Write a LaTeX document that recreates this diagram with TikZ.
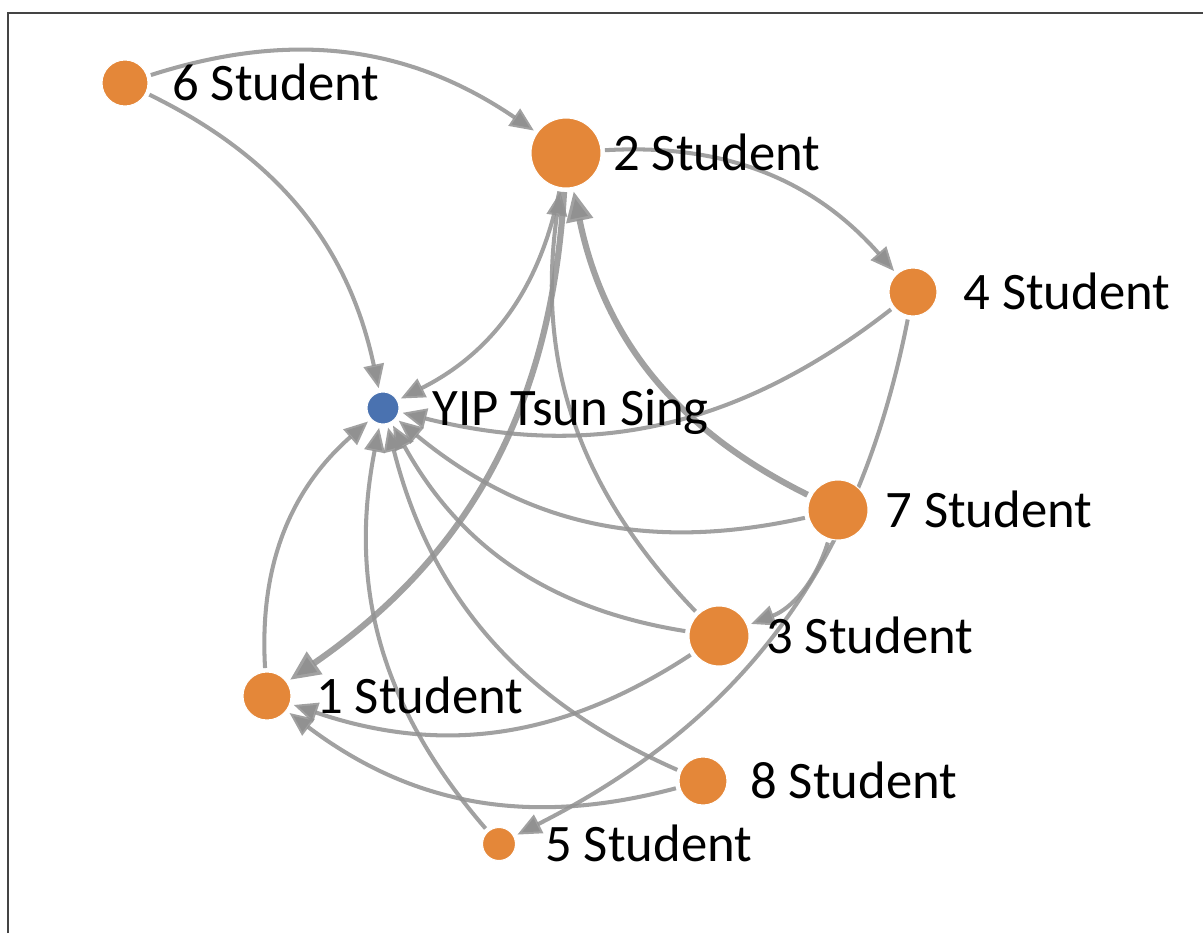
\documentclass[tikz,border=0pt]{standalone}
\usepackage{fontspec}
\setmainfont{Carlito}
\usetikzlibrary{arrows.meta}
\definecolor{nodeorange}{RGB}{228,135,57}
\definecolor{nodeblue}{RGB}{74,114,176}
\definecolor{edgegray}{RGB}{145,145,145}
\definecolor{framegray}{RGB}{68,68,68}
\pgfdeclarelayer{edgelayer}
\pgfsetlayers{edgelayer,main}

\begin{document}
\begin{tikzpicture}[x=0.02cm, y=-0.02cm,
  student/.style = {circle, fill=nodeorange, draw=white, line width=0.6pt, inner sep=0pt},
  teacher/.style = {circle, fill=nodeblue, draw=white, line width=0.6pt, inner sep=0pt},
  tag/.style = {anchor=base west, inner sep=0pt, font=\fontsize{30}{36}\selectfont},
  edgeline/.style = {draw=edgegray, draw opacity=0.85, line width=2.3pt, bend left=26,
    shorten >=2pt, shorten <=2pt, -{Triangle[length=0.48cm, width=0.4cm]}},
  heavyline/.style = {edgeline, line width=3.5pt, -{Triangle[length=0.6cm, width=0.52cm]}}]
  \useasboundingbox (0,0) rectangle (1203,933);
  \draw[framegray, line width=1.2pt] (8,933) -- (8,13) -- (1203,13);

  \node[student, minimum size=0.92cm] (n6) at (125,83) {};
  \node[student, minimum size=1.40cm] (n2) at (566,153) {};
  \node[student, minimum size=0.96cm] (n4) at (913,292) {};
  \node[teacher, minimum size=0.64cm] (yip) at (383,408) {};
  \node[student, minimum size=1.20cm] (n7) at (838,510) {};
  \node[student, minimum size=1.20cm] (n3) at (719,636) {};
  \node[student, minimum size=0.96cm] (n1) at (267,696) {};
  \node[student, minimum size=0.96cm] (n8) at (703,781) {};
  \node[student, minimum size=0.66cm] (n5) at (499,844) {};

  \node[tag] (l6) at (172,100) {6 Student};
  \node[tag] (l2) at (613,170) {2 Student};
  \node[tag] (l4) at (963,309) {4 Student};
  \node[tag] (lyip) at (432,425) {YIP Tsun Sing};
  \node[tag] (l7) at (885,527) {7 Student};
  \node[tag] (l3) at (766,653) {3 Student};
  \node[tag] (l1) at (316,713) {1 Student};
  \node[tag] (l8) at (750,798) {8 Student};
  \node[tag] (l5) at (545,861) {5 Student};

  \begin{pgfonlayer}{edgelayer}
    \draw[edgeline] (n6) to (n2);
    \draw[edgeline] (n6) to (yip);
    \draw[edgeline] (n2) to (n4);
    \draw[edgeline] (n2) to (yip);
    \draw[heavyline] (n2) to (n1);
    \draw[edgeline] (n3) to (n2);
    \draw[heavyline] (n7) to (n2);
    \draw[edgeline] (n4) to (yip);
    \draw[edgeline] (n4) to (n5);
    \draw[edgeline] (n7) to (yip);
    \draw[edgeline] (n7) to (n3);
    \draw[edgeline] (n3) to (yip);
    \draw[edgeline] (n3) to (n1);
    \draw[edgeline] (n8) to (yip);
    \draw[edgeline] (n8) to (n1);
    \draw[edgeline] (n5) to (yip);
    \draw[edgeline] (n1) to (yip);
  \end{pgfonlayer}
\end{tikzpicture}
\end{document}
